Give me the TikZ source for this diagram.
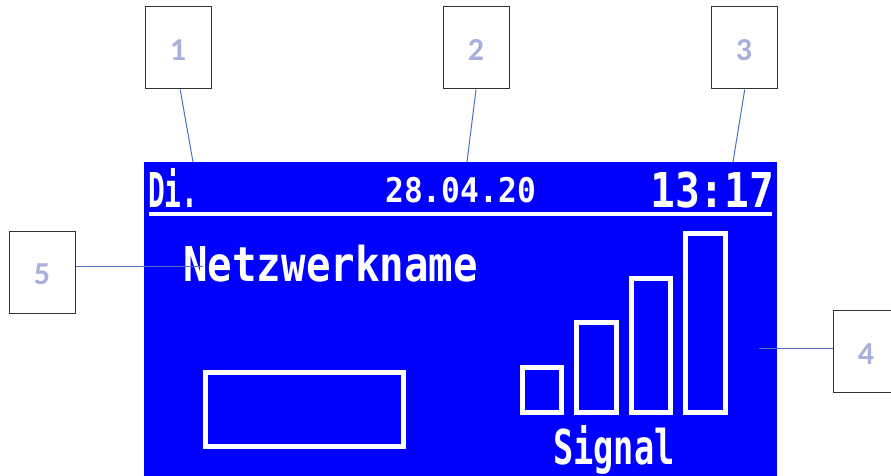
\documentclass[tikz,border=0pt]{standalone}
\usepackage{graphicx}
\usepackage{fontspec}
\newfontfamily\lcdfont{DejaVu Sans Mono}
\newfontfamily\tagfont{Carlito}
\usetikzlibrary{positioning}
\definecolor{lcdblue}{RGB}{0,0,255}
\definecolor{taglilac}{RGB}{168,176,220}
\definecolor{leadblue}{RGB}{76,114,190}
\definecolor{tagedge}{RGB}{50,50,50}
\newcommand{\lcdsqueeze}[2]{\scalebox{#1}[1]{#2}}

\begin{document}
\begin{tikzpicture}[x=1pt, y=-1pt]

        % Styles for the numbered boxes and the display
        \tikzset{
            tagbox/.style={draw=tagedge, line width=1pt, fill=white, minimum width=66pt,
                minimum height=82pt, inner sep=0pt, text height=25pt, text depth=0pt,
                text=taglilac, font=\tagfont\bfseries\fontsize{32}{32}\selectfont},
            lead/.style={draw=leadblue, line width=1pt},
            lcdbar/.style={draw=white, line width=5pt, fill=none},
            lcdtext/.style={text=white, inner sep=0pt, anchor=base west},
            lcdbig/.style={lcdtext, font=\lcdfont\bfseries\fontsize{48}{48}\selectfont},
            lcdsmall/.style={lcdtext, font=\lcdfont\bfseries\fontsize{34}{34}\selectfont}
        }

        \useasboundingbox (0, 0) rectangle (891, 476);

        % Display panel
        \fill[lcdblue] (144, 162) rectangle (777, 476);
        \fill[white] (149, 212) rectangle (772, 216);

        \node[lcdbig] (day) at (148, 207) {\lcdsqueeze{.58}{Di.}};
        \node[lcdsmall] (date) at (385, 202) {\lcdsqueeze{.92}{28.04.20}};
        \node[lcdbig] (clock) at (650, 207) {\lcdsqueeze{.86}{13:17}};
        \node[lcdbig] (netname) at (183, 281) {\lcdsqueeze{.85}{Netzwerkname}};
        \node[lcdbig] (signal) at (553, 464) {\lcdsqueeze{.7}{Signal}};

        % Outlines are inset by half the line width
        \begin{scope}
            \draw[lcdbar] (205.5, 372.5) rectangle (403.5, 446.5);
            \draw[lcdbar] (522.5, 367.5) rectangle (561.5, 412.5);
            \draw[lcdbar] (576.5, 322.5) rectangle (616.5, 412.5);
            \draw[lcdbar] (631.5, 278.5) rectangle (670.5, 412.5);
            \draw[lcdbar] (685.5, 233.5) rectangle (725.5, 412.5);
        \end{scope}

        % Numbered boxes
        \node[tagbox] (1) at (178, 48) {1};
        \node[tagbox, right=231pt of 1] (2) {2};
        \node[tagbox, right=201pt of 2] (3) {3};
        \node[tagbox] (5) at (42, 272) {5};
        \node[tagbox] (4) at (866, 351.5) {4};

        \coordinate (end1) at (193, 162);
        \coordinate (end2) at (467, 162);
        \coordinate (end3) at (733, 162);
        \coordinate (end4) at (759, 348);
        \coordinate (end5) at (203, 266.5);

        \begin{scope}[lead]
            \draw (1.-87) -- (end1);
            \draw (2.south) -- (end2);
            \draw (3.-89) -- (end3);
            \draw (4.west |- end4) -- (end4);
            \draw (5.east |- end5) -- (end5);
        \end{scope}

\end{tikzpicture}
\end{document}
